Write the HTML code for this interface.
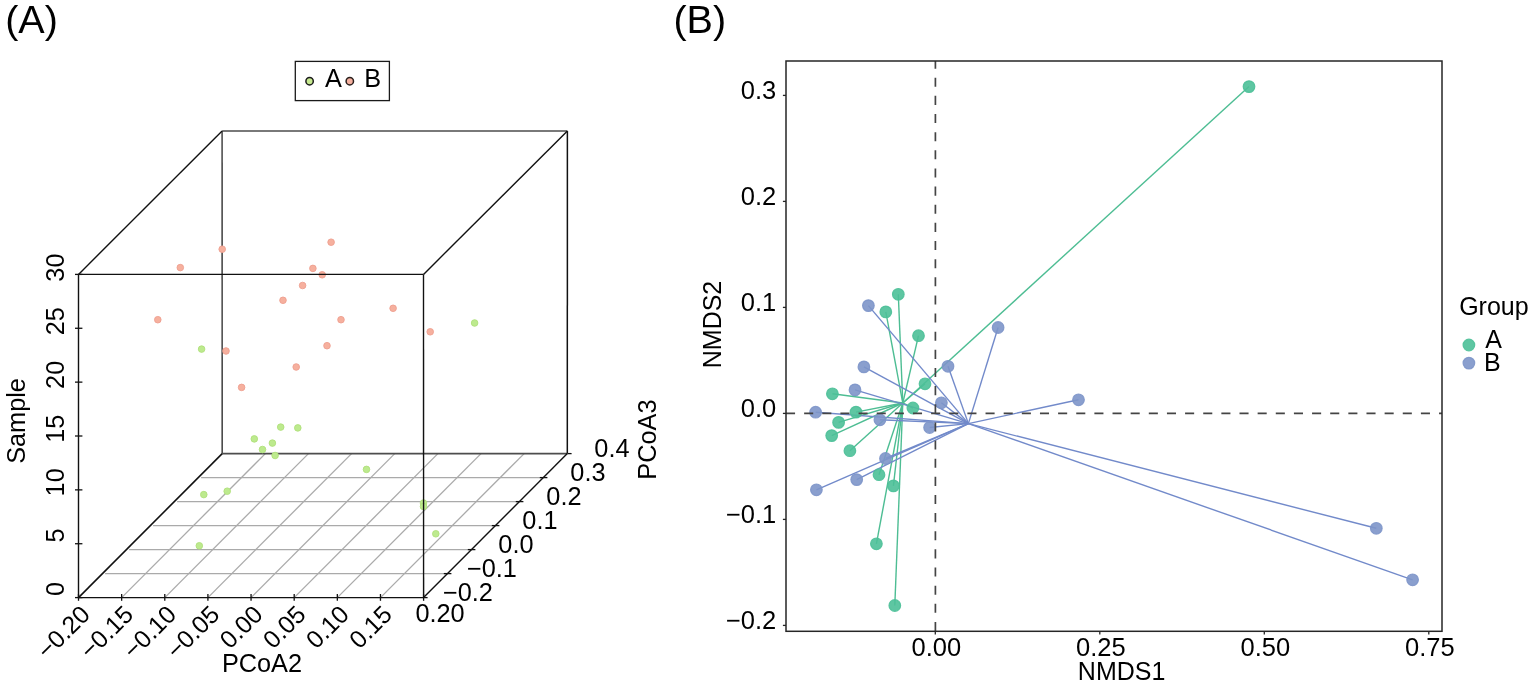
<!DOCTYPE html>
<html><head><meta charset="utf-8"><title>PCoA / NMDS</title>
<style>
html,body{margin:0;padding:0;background:#fff;}
body{width:1535px;height:686px;overflow:hidden;}
svg{display:block;font-family:"Liberation Sans", Arial, Helvetica, sans-serif;}
</style></head>
<body>
<svg width="1535" height="686" viewBox="0 0 1535 686">
<rect width="1535" height="686" fill="#fff"/>
<text x="5.20" y="33.20" font-size="39.5" text-anchor="start" fill="#000">(A)</text>
<text x="673.45" y="33.10" font-size="39.5" text-anchor="start" fill="#000">(B)</text>
<line x1="105.10" y1="573.60" x2="447.60" y2="573.60" stroke="#aaaaaa" stroke-width="1.3"/>
<line x1="129.10" y1="549.60" x2="471.60" y2="549.60" stroke="#aaaaaa" stroke-width="1.3"/>
<line x1="153.10" y1="525.60" x2="495.60" y2="525.60" stroke="#aaaaaa" stroke-width="1.3"/>
<line x1="177.10" y1="501.60" x2="519.60" y2="501.60" stroke="#aaaaaa" stroke-width="1.3"/>
<line x1="201.10" y1="477.60" x2="543.60" y2="477.60" stroke="#aaaaaa" stroke-width="1.3"/>
<line x1="121.64" y1="597.60" x2="265.34" y2="453.60" stroke="#aaaaaa" stroke-width="1.3"/>
<line x1="164.78" y1="597.60" x2="308.48" y2="453.60" stroke="#aaaaaa" stroke-width="1.3"/>
<line x1="207.91" y1="597.60" x2="351.61" y2="453.60" stroke="#aaaaaa" stroke-width="1.3"/>
<line x1="251.05" y1="597.60" x2="394.75" y2="453.60" stroke="#aaaaaa" stroke-width="1.3"/>
<line x1="294.19" y1="597.60" x2="437.89" y2="453.60" stroke="#aaaaaa" stroke-width="1.3"/>
<line x1="337.33" y1="597.60" x2="481.03" y2="453.60" stroke="#aaaaaa" stroke-width="1.3"/>
<line x1="380.46" y1="597.60" x2="524.16" y2="453.60" stroke="#aaaaaa" stroke-width="1.3"/>
<line x1="222.20" y1="453.60" x2="567.30" y2="453.60" stroke="#4d4d4d" stroke-width="1.9"/>
<line x1="222.20" y1="453.60" x2="222.10" y2="131.00" stroke="#4d4d4d" stroke-width="1.6"/>
<line x1="567.30" y1="453.60" x2="567.40" y2="131.00" stroke="#111111" stroke-width="1.5"/>
<line x1="222.10" y1="131.00" x2="567.40" y2="131.00" stroke="#4d4d4d" stroke-width="1.6"/>
<line x1="222.10" y1="131.00" x2="78.50" y2="274.40" stroke="#111111" stroke-width="1.4"/>
<line x1="567.40" y1="131.00" x2="423.50" y2="274.40" stroke="#111111" stroke-width="1.4"/>
<line x1="78.50" y1="597.60" x2="222.20" y2="453.60" stroke="#111111" stroke-width="1.6"/>
<circle cx="474.60" cy="323.00" r="3.3" fill="#bdea8e" stroke="#b0e07c" stroke-width="0.9"/>
<circle cx="201.60" cy="349.10" r="3.3" fill="#bdea8e" stroke="#b0e07c" stroke-width="0.9"/>
<circle cx="280.70" cy="427.10" r="3.3" fill="#bdea8e" stroke="#b0e07c" stroke-width="0.9"/>
<circle cx="297.80" cy="427.90" r="3.3" fill="#bdea8e" stroke="#b0e07c" stroke-width="0.9"/>
<circle cx="254.30" cy="438.90" r="3.3" fill="#bdea8e" stroke="#b0e07c" stroke-width="0.9"/>
<circle cx="272.40" cy="443.10" r="3.3" fill="#bdea8e" stroke="#b0e07c" stroke-width="0.9"/>
<circle cx="262.50" cy="449.50" r="3.3" fill="#bdea8e" stroke="#b0e07c" stroke-width="0.9"/>
<circle cx="275.10" cy="455.50" r="3.3" fill="#bdea8e" stroke="#b0e07c" stroke-width="0.9"/>
<circle cx="366.50" cy="469.40" r="3.3" fill="#bdea8e" stroke="#b0e07c" stroke-width="0.9"/>
<circle cx="203.80" cy="494.60" r="3.3" fill="#bdea8e" stroke="#b0e07c" stroke-width="0.9"/>
<circle cx="227.20" cy="491.20" r="3.3" fill="#bdea8e" stroke="#b0e07c" stroke-width="0.9"/>
<circle cx="423.50" cy="503.00" r="3.3" fill="#bdea8e" stroke="#b0e07c" stroke-width="0.9"/>
<circle cx="423.50" cy="506.50" r="3.3" fill="#bdea8e" stroke="#b0e07c" stroke-width="0.9"/>
<circle cx="435.80" cy="533.80" r="3.3" fill="#bdea8e" stroke="#b0e07c" stroke-width="0.9"/>
<circle cx="199.30" cy="545.80" r="3.3" fill="#bdea8e" stroke="#b0e07c" stroke-width="0.9"/>
<circle cx="180.30" cy="267.60" r="3.3" fill="#f6b09e" stroke="#ee9f90" stroke-width="0.9"/>
<circle cx="222.20" cy="249.20" r="3.3" fill="#f6b09e" stroke="#ee9f90" stroke-width="0.9"/>
<circle cx="331.10" cy="242.20" r="3.3" fill="#f6b09e" stroke="#ee9f90" stroke-width="0.9"/>
<circle cx="312.90" cy="268.40" r="3.3" fill="#f6b09e" stroke="#ee9f90" stroke-width="0.9"/>
<circle cx="322.20" cy="274.80" r="3.3" fill="#f6b09e" stroke="#ee9f90" stroke-width="0.9"/>
<circle cx="302.60" cy="285.50" r="3.3" fill="#f6b09e" stroke="#ee9f90" stroke-width="0.9"/>
<circle cx="283.00" cy="300.30" r="3.3" fill="#f6b09e" stroke="#ee9f90" stroke-width="0.9"/>
<circle cx="393.10" cy="308.30" r="3.3" fill="#f6b09e" stroke="#ee9f90" stroke-width="0.9"/>
<circle cx="341.00" cy="319.70" r="3.3" fill="#f6b09e" stroke="#ee9f90" stroke-width="0.9"/>
<circle cx="157.80" cy="319.70" r="3.3" fill="#f6b09e" stroke="#ee9f90" stroke-width="0.9"/>
<circle cx="226.00" cy="351.00" r="3.3" fill="#f6b09e" stroke="#ee9f90" stroke-width="0.9"/>
<circle cx="296.20" cy="367.00" r="3.3" fill="#f6b09e" stroke="#ee9f90" stroke-width="0.9"/>
<circle cx="241.60" cy="387.40" r="3.3" fill="#f6b09e" stroke="#ee9f90" stroke-width="0.9"/>
<circle cx="327.00" cy="345.70" r="3.3" fill="#f6b09e" stroke="#ee9f90" stroke-width="0.9"/>
<circle cx="430.20" cy="331.80" r="3.3" fill="#f6b09e" stroke="#ee9f90" stroke-width="0.9"/>
<line x1="78.50" y1="274.40" x2="423.50" y2="274.40" stroke="#111111" stroke-width="1.4"/>
<line x1="78.50" y1="274.40" x2="78.50" y2="597.60" stroke="#111111" stroke-width="1.4"/>
<line x1="423.50" y1="274.40" x2="423.60" y2="597.60" stroke="#111111" stroke-width="1.4"/>
<line x1="78.50" y1="597.60" x2="423.60" y2="597.60" stroke="#111111" stroke-width="1.4"/>
<line x1="423.60" y1="597.60" x2="567.30" y2="453.60" stroke="#111111" stroke-width="1.4"/>
<line x1="75.00" y1="597.60" x2="82.40" y2="597.60" stroke="#111111" stroke-width="1.3"/>
<text x="63.90" y="589.00" font-size="25.3" text-anchor="middle" transform="rotate(-90 63.90 589.00)" fill="#000">0</text>
<line x1="75.00" y1="543.73" x2="82.40" y2="543.73" stroke="#111111" stroke-width="1.3"/>
<text x="63.90" y="535.41" font-size="25.3" text-anchor="middle" transform="rotate(-90 63.90 535.41)" fill="#000">5</text>
<line x1="75.00" y1="489.87" x2="82.40" y2="489.87" stroke="#111111" stroke-width="1.3"/>
<text x="63.90" y="482.33" font-size="25.3" text-anchor="middle" transform="rotate(-90 63.90 482.33)" fill="#000">10</text>
<line x1="75.00" y1="436.00" x2="82.40" y2="436.00" stroke="#111111" stroke-width="1.3"/>
<text x="63.90" y="428.72" font-size="25.3" text-anchor="middle" transform="rotate(-90 63.90 428.72)" fill="#000">15</text>
<line x1="75.00" y1="382.13" x2="82.40" y2="382.13" stroke="#111111" stroke-width="1.3"/>
<text x="63.90" y="374.86" font-size="25.3" text-anchor="middle" transform="rotate(-90 63.90 374.86)" fill="#000">20</text>
<line x1="75.00" y1="328.27" x2="82.40" y2="328.27" stroke="#111111" stroke-width="1.3"/>
<text x="63.90" y="321.26" font-size="25.3" text-anchor="middle" transform="rotate(-90 63.90 321.26)" fill="#000">25</text>
<line x1="75.00" y1="274.40" x2="82.40" y2="274.40" stroke="#111111" stroke-width="1.3"/>
<text x="63.90" y="267.57" font-size="25.3" text-anchor="middle" transform="rotate(-90 63.90 267.57)" fill="#000">30</text>
<text x="25.10" y="463.85" font-size="25.3" text-anchor="start" transform="rotate(-90 25.10 463.85)" fill="#000">Sample</text>
<line x1="78.50" y1="594.00" x2="78.50" y2="600.80" stroke="#111111" stroke-width="1.3"/>
<text x="91.60" y="615.90" font-size="24.8" text-anchor="end" transform="rotate(-45 91.60 615.90)" fill="#000">−0.20</text>
<line x1="121.64" y1="594.00" x2="121.64" y2="600.80" stroke="#111111" stroke-width="1.3"/>
<text x="134.74" y="615.90" font-size="24.8" text-anchor="end" transform="rotate(-45 134.74 615.90)" fill="#000">−0.15</text>
<line x1="164.78" y1="594.00" x2="164.78" y2="600.80" stroke="#111111" stroke-width="1.3"/>
<text x="177.88" y="615.90" font-size="24.8" text-anchor="end" transform="rotate(-45 177.88 615.90)" fill="#000">−0.10</text>
<line x1="207.91" y1="594.00" x2="207.91" y2="600.80" stroke="#111111" stroke-width="1.3"/>
<text x="221.01" y="615.90" font-size="24.8" text-anchor="end" transform="rotate(-45 221.01 615.90)" fill="#000">−0.05</text>
<line x1="251.05" y1="594.00" x2="251.05" y2="600.80" stroke="#111111" stroke-width="1.3"/>
<text x="264.15" y="615.90" font-size="24.8" text-anchor="end" transform="rotate(-45 264.15 615.90)" fill="#000">0.00</text>
<line x1="294.19" y1="594.00" x2="294.19" y2="600.80" stroke="#111111" stroke-width="1.3"/>
<text x="307.29" y="615.90" font-size="24.8" text-anchor="end" transform="rotate(-45 307.29 615.90)" fill="#000">0.05</text>
<line x1="337.33" y1="594.00" x2="337.33" y2="600.80" stroke="#111111" stroke-width="1.3"/>
<text x="350.43" y="615.90" font-size="24.8" text-anchor="end" transform="rotate(-45 350.43 615.90)" fill="#000">0.10</text>
<line x1="380.46" y1="594.00" x2="380.46" y2="600.80" stroke="#111111" stroke-width="1.3"/>
<text x="393.56" y="615.90" font-size="24.8" text-anchor="end" transform="rotate(-45 393.56 615.90)" fill="#000">0.15</text>
<line x1="423.60" y1="594.00" x2="423.60" y2="600.80" stroke="#111111" stroke-width="1.3"/>
<text x="415.41" y="622.00" font-size="25.3" text-anchor="start" fill="#000">0.20</text>
<text x="221.92" y="672.30" font-size="25.3" text-anchor="start" fill="#000">PCoA2</text>
<line x1="423.60" y1="597.60" x2="427.60" y2="597.60" stroke="#111111" stroke-width="1.3"/>
<text x="467.90" y="601.00" font-size="25.3" text-anchor="middle" fill="#000">−0.2</text>
<line x1="443.80" y1="573.60" x2="451.40" y2="573.60" stroke="#111111" stroke-width="1.3"/>
<text x="491.90" y="577.00" font-size="25.3" text-anchor="middle" fill="#000">−0.1</text>
<line x1="467.80" y1="549.60" x2="475.40" y2="549.60" stroke="#111111" stroke-width="1.3"/>
<text x="515.90" y="553.00" font-size="25.3" text-anchor="middle" fill="#000">0.0</text>
<line x1="491.80" y1="525.60" x2="499.40" y2="525.60" stroke="#111111" stroke-width="1.3"/>
<text x="539.90" y="529.00" font-size="25.3" text-anchor="middle" fill="#000">0.1</text>
<line x1="515.80" y1="501.60" x2="523.40" y2="501.60" stroke="#111111" stroke-width="1.3"/>
<text x="563.90" y="505.00" font-size="25.3" text-anchor="middle" fill="#000">0.2</text>
<line x1="539.80" y1="477.60" x2="547.40" y2="477.60" stroke="#111111" stroke-width="1.3"/>
<text x="587.90" y="481.00" font-size="25.3" text-anchor="middle" fill="#000">0.3</text>
<line x1="567.60" y1="453.60" x2="571.60" y2="453.60" stroke="#111111" stroke-width="1.3"/>
<text x="611.90" y="457.00" font-size="25.3" text-anchor="middle" fill="#000">0.4</text>
<text x="655.90" y="479.68" font-size="25.3" text-anchor="start" transform="rotate(-90 655.90 479.68)" fill="#000">PCoA3</text>
<rect x="295.3" y="61.4" width="94.1" height="39.2" fill="none" stroke="#1a1a1a" stroke-width="1.3"/>
<circle cx="309.60" cy="81.20" r="3.7" fill="#c6e98f" stroke="#1c1c1c" stroke-width="1.5"/>
<circle cx="349.80" cy="81.20" r="3.7" fill="#f5b09f" stroke="#2a1f1c" stroke-width="1.5"/>
<text x="325.00" y="86.70" font-size="25.3" text-anchor="start" fill="#000">A</text>
<text x="364.32" y="86.70" font-size="25.3" text-anchor="start" fill="#000">B</text>
<line x1="902.78" y1="402.99" x2="898.30" y2="294.30" stroke="#4dbd93" stroke-width="1.4"/>
<line x1="902.78" y1="402.99" x2="885.80" y2="311.90" stroke="#4dbd93" stroke-width="1.4"/>
<line x1="902.78" y1="402.99" x2="918.50" y2="335.70" stroke="#4dbd93" stroke-width="1.4"/>
<line x1="902.78" y1="402.99" x2="925.00" y2="383.80" stroke="#4dbd93" stroke-width="1.4"/>
<line x1="902.78" y1="402.99" x2="832.40" y2="393.80" stroke="#4dbd93" stroke-width="1.4"/>
<line x1="902.78" y1="402.99" x2="912.90" y2="408.00" stroke="#4dbd93" stroke-width="1.4"/>
<line x1="902.78" y1="402.99" x2="856.00" y2="412.10" stroke="#4dbd93" stroke-width="1.4"/>
<line x1="902.78" y1="402.99" x2="838.60" y2="422.40" stroke="#4dbd93" stroke-width="1.4"/>
<line x1="902.78" y1="402.99" x2="831.70" y2="435.60" stroke="#4dbd93" stroke-width="1.4"/>
<line x1="902.78" y1="402.99" x2="849.90" y2="450.70" stroke="#4dbd93" stroke-width="1.4"/>
<line x1="902.78" y1="402.99" x2="879.00" y2="474.70" stroke="#4dbd93" stroke-width="1.4"/>
<line x1="902.78" y1="402.99" x2="893.40" y2="485.90" stroke="#4dbd93" stroke-width="1.4"/>
<line x1="902.78" y1="402.99" x2="876.40" y2="543.80" stroke="#4dbd93" stroke-width="1.4"/>
<line x1="902.78" y1="402.99" x2="894.80" y2="605.50" stroke="#4dbd93" stroke-width="1.4"/>
<line x1="902.78" y1="402.99" x2="1249.00" y2="86.60" stroke="#4dbd93" stroke-width="1.4"/>
<line x1="968.39" y1="423.62" x2="868.40" y2="305.60" stroke="#728aca" stroke-width="1.4"/>
<line x1="968.39" y1="423.62" x2="863.90" y2="366.90" stroke="#728aca" stroke-width="1.4"/>
<line x1="968.39" y1="423.62" x2="855.00" y2="389.90" stroke="#728aca" stroke-width="1.4"/>
<line x1="968.39" y1="423.62" x2="948.00" y2="366.30" stroke="#728aca" stroke-width="1.4"/>
<line x1="968.39" y1="423.62" x2="941.40" y2="402.80" stroke="#728aca" stroke-width="1.4"/>
<line x1="968.39" y1="423.62" x2="815.60" y2="412.20" stroke="#728aca" stroke-width="1.4"/>
<line x1="968.39" y1="423.62" x2="879.90" y2="419.80" stroke="#728aca" stroke-width="1.4"/>
<line x1="968.39" y1="423.62" x2="929.60" y2="427.50" stroke="#728aca" stroke-width="1.4"/>
<line x1="968.39" y1="423.62" x2="998.10" y2="327.50" stroke="#728aca" stroke-width="1.4"/>
<line x1="968.39" y1="423.62" x2="885.50" y2="458.50" stroke="#728aca" stroke-width="1.4"/>
<line x1="968.39" y1="423.62" x2="856.70" y2="479.60" stroke="#728aca" stroke-width="1.4"/>
<line x1="968.39" y1="423.62" x2="816.40" y2="489.80" stroke="#728aca" stroke-width="1.4"/>
<line x1="968.39" y1="423.62" x2="1078.50" y2="399.80" stroke="#728aca" stroke-width="1.4"/>
<line x1="968.39" y1="423.62" x2="1376.30" y2="528.30" stroke="#728aca" stroke-width="1.4"/>
<line x1="968.39" y1="423.62" x2="1412.60" y2="579.80" stroke="#728aca" stroke-width="1.4"/>
<circle cx="898.30" cy="294.30" r="5.8" fill="#4cc098" stroke="#4cc098" stroke-width="1.2" fill-opacity="0.9" stroke-opacity="0.9"/>
<circle cx="885.80" cy="311.90" r="5.8" fill="#4cc098" stroke="#4cc098" stroke-width="1.2" fill-opacity="0.9" stroke-opacity="0.9"/>
<circle cx="918.50" cy="335.70" r="5.8" fill="#4cc098" stroke="#4cc098" stroke-width="1.2" fill-opacity="0.9" stroke-opacity="0.9"/>
<circle cx="925.00" cy="383.80" r="5.8" fill="#4cc098" stroke="#4cc098" stroke-width="1.2" fill-opacity="0.9" stroke-opacity="0.9"/>
<circle cx="832.40" cy="393.80" r="5.8" fill="#4cc098" stroke="#4cc098" stroke-width="1.2" fill-opacity="0.9" stroke-opacity="0.9"/>
<circle cx="912.90" cy="408.00" r="5.8" fill="#4cc098" stroke="#4cc098" stroke-width="1.2" fill-opacity="0.9" stroke-opacity="0.9"/>
<circle cx="856.00" cy="412.10" r="5.8" fill="#4cc098" stroke="#4cc098" stroke-width="1.2" fill-opacity="0.9" stroke-opacity="0.9"/>
<circle cx="838.60" cy="422.40" r="5.8" fill="#4cc098" stroke="#4cc098" stroke-width="1.2" fill-opacity="0.9" stroke-opacity="0.9"/>
<circle cx="831.70" cy="435.60" r="5.8" fill="#4cc098" stroke="#4cc098" stroke-width="1.2" fill-opacity="0.9" stroke-opacity="0.9"/>
<circle cx="849.90" cy="450.70" r="5.8" fill="#4cc098" stroke="#4cc098" stroke-width="1.2" fill-opacity="0.9" stroke-opacity="0.9"/>
<circle cx="879.00" cy="474.70" r="5.8" fill="#4cc098" stroke="#4cc098" stroke-width="1.2" fill-opacity="0.9" stroke-opacity="0.9"/>
<circle cx="893.40" cy="485.90" r="5.8" fill="#4cc098" stroke="#4cc098" stroke-width="1.2" fill-opacity="0.9" stroke-opacity="0.9"/>
<circle cx="876.40" cy="543.80" r="5.8" fill="#4cc098" stroke="#4cc098" stroke-width="1.2" fill-opacity="0.9" stroke-opacity="0.9"/>
<circle cx="894.80" cy="605.50" r="5.8" fill="#4cc098" stroke="#4cc098" stroke-width="1.2" fill-opacity="0.9" stroke-opacity="0.9"/>
<circle cx="1249.00" cy="86.60" r="5.8" fill="#4cc098" stroke="#4cc098" stroke-width="1.2" fill-opacity="0.9" stroke-opacity="0.9"/>
<circle cx="868.40" cy="305.60" r="5.8" fill="#7d95c9" stroke="#7d95c9" stroke-width="1.2" fill-opacity="0.9" stroke-opacity="0.9"/>
<circle cx="863.90" cy="366.90" r="5.8" fill="#7d95c9" stroke="#7d95c9" stroke-width="1.2" fill-opacity="0.9" stroke-opacity="0.9"/>
<circle cx="855.00" cy="389.90" r="5.8" fill="#7d95c9" stroke="#7d95c9" stroke-width="1.2" fill-opacity="0.9" stroke-opacity="0.9"/>
<circle cx="948.00" cy="366.30" r="5.8" fill="#7d95c9" stroke="#7d95c9" stroke-width="1.2" fill-opacity="0.9" stroke-opacity="0.9"/>
<circle cx="941.40" cy="402.80" r="5.8" fill="#7d95c9" stroke="#7d95c9" stroke-width="1.2" fill-opacity="0.9" stroke-opacity="0.9"/>
<circle cx="815.60" cy="412.20" r="5.8" fill="#7d95c9" stroke="#7d95c9" stroke-width="1.2" fill-opacity="0.9" stroke-opacity="0.9"/>
<circle cx="879.90" cy="419.80" r="5.8" fill="#7d95c9" stroke="#7d95c9" stroke-width="1.2" fill-opacity="0.9" stroke-opacity="0.9"/>
<circle cx="929.60" cy="427.50" r="5.8" fill="#7d95c9" stroke="#7d95c9" stroke-width="1.2" fill-opacity="0.9" stroke-opacity="0.9"/>
<circle cx="998.10" cy="327.50" r="5.8" fill="#7d95c9" stroke="#7d95c9" stroke-width="1.2" fill-opacity="0.9" stroke-opacity="0.9"/>
<circle cx="885.50" cy="458.50" r="5.8" fill="#7d95c9" stroke="#7d95c9" stroke-width="1.2" fill-opacity="0.9" stroke-opacity="0.9"/>
<circle cx="856.70" cy="479.60" r="5.8" fill="#7d95c9" stroke="#7d95c9" stroke-width="1.2" fill-opacity="0.9" stroke-opacity="0.9"/>
<circle cx="816.40" cy="489.80" r="5.8" fill="#7d95c9" stroke="#7d95c9" stroke-width="1.2" fill-opacity="0.9" stroke-opacity="0.9"/>
<circle cx="1078.50" cy="399.80" r="5.8" fill="#7d95c9" stroke="#7d95c9" stroke-width="1.2" fill-opacity="0.9" stroke-opacity="0.9"/>
<circle cx="1376.30" cy="528.30" r="5.8" fill="#7d95c9" stroke="#7d95c9" stroke-width="1.2" fill-opacity="0.9" stroke-opacity="0.9"/>
<circle cx="1412.60" cy="579.80" r="5.8" fill="#7d95c9" stroke="#7d95c9" stroke-width="1.2" fill-opacity="0.9" stroke-opacity="0.9"/>
<line x1="786" y1="413.4" x2="1442" y2="413.4" stroke="#444" stroke-width="1.7" stroke-dasharray="9.07 9.07"/>
<line x1="935.4" y1="631" x2="935.4" y2="61" stroke="#444" stroke-width="1.7" stroke-dasharray="9.07 9.07"/>
<rect x="786" y="61" width="656" height="570.3" fill="none" stroke="#262626" stroke-width="1.5"/>
<line x1="782.90" y1="95.40" x2="786.00" y2="95.40" stroke="#262626" stroke-width="1.3"/>
<text x="776.30" y="99.45" font-size="25.5" text-anchor="end" fill="#000">0.3</text>
<line x1="782.90" y1="201.40" x2="786.00" y2="201.40" stroke="#262626" stroke-width="1.3"/>
<text x="776.30" y="205.45" font-size="25.5" text-anchor="end" fill="#000">0.2</text>
<line x1="782.90" y1="307.40" x2="786.00" y2="307.40" stroke="#262626" stroke-width="1.3"/>
<text x="776.30" y="311.45" font-size="25.5" text-anchor="end" fill="#000">0.1</text>
<line x1="782.90" y1="413.40" x2="786.00" y2="413.40" stroke="#262626" stroke-width="1.3"/>
<text x="776.30" y="417.45" font-size="25.5" text-anchor="end" fill="#000">0.0</text>
<line x1="782.90" y1="519.40" x2="786.00" y2="519.40" stroke="#262626" stroke-width="1.3"/>
<text x="776.30" y="523.45" font-size="25.5" text-anchor="end" fill="#000">−0.1</text>
<line x1="782.90" y1="625.40" x2="786.00" y2="625.40" stroke="#262626" stroke-width="1.3"/>
<text x="776.30" y="629.45" font-size="25.5" text-anchor="end" fill="#000">−0.2</text>
<line x1="935.30" y1="631.00" x2="935.30" y2="634.60" stroke="#262626" stroke-width="1.3"/>
<text x="936.30" y="656.00" font-size="25.5" text-anchor="middle" fill="#000">0.00</text>
<line x1="1099.80" y1="631.00" x2="1099.80" y2="634.60" stroke="#262626" stroke-width="1.3"/>
<text x="1100.80" y="656.00" font-size="25.5" text-anchor="middle" fill="#000">0.25</text>
<line x1="1264.30" y1="631.00" x2="1264.30" y2="634.60" stroke="#262626" stroke-width="1.3"/>
<text x="1265.30" y="656.00" font-size="25.5" text-anchor="middle" fill="#000">0.50</text>
<line x1="1428.80" y1="631.00" x2="1428.80" y2="634.60" stroke="#262626" stroke-width="1.3"/>
<text x="1429.80" y="656.00" font-size="25.5" text-anchor="middle" fill="#000">0.75</text>
<text x="1077.85" y="679.70" font-size="25.0" text-anchor="start" fill="#000">NMDS1</text>
<text x="720.80" y="368.25" font-size="25.0" text-anchor="start" transform="rotate(-90 720.80 368.25)" fill="#000">NMDS2</text>
<text x="1459.14" y="314.50" font-size="25.0" text-anchor="start" fill="#000">Group</text>
<circle cx="1468.90" cy="345.00" r="5.8" fill="#4cc098" stroke="#4cc098" stroke-width="1.2" fill-opacity="0.9" stroke-opacity="0.9"/>
<circle cx="1468.90" cy="363.10" r="5.8" fill="#7d95c9" stroke="#7d95c9" stroke-width="1.2" fill-opacity="0.9" stroke-opacity="0.9"/>
<text x="1485.30" y="348.20" font-size="25.0" text-anchor="start" fill="#000">A</text>
<text x="1484.00" y="370.70" font-size="25.0" text-anchor="start" fill="#000">B</text>
</svg>
</body></html>
